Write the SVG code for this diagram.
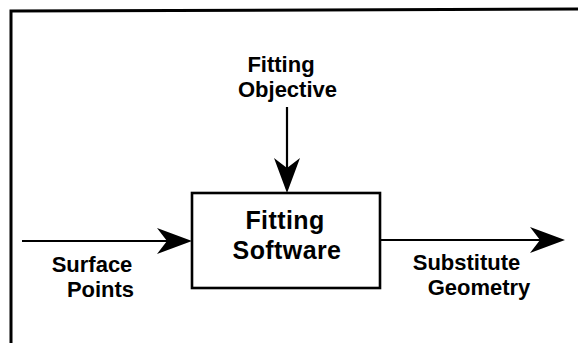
<svg xmlns="http://www.w3.org/2000/svg" width="578" height="343" viewBox="0 0 578 343">
  <style>
    .lbl { font-family: "Liberation Sans", Arial, Helvetica, sans-serif; font-weight: bold; fill: #000; }
    .sm { font-size: 22px; }
    .lg { font-size: 25px; letter-spacing: 0.4px; }
    .conn { stroke: #000; stroke-width: 2.2; fill: none; marker-end: url(#arr); }
  </style>
  <defs>
    <marker id="arr" markerUnits="userSpaceOnUse" viewBox="-32 -14 37 28" markerWidth="37" markerHeight="28" refX="0" refY="0" orient="auto">
      <path d="M4,0 L-31,-13 L-21,0 L-31,13 Z" fill="#000"/>
    </marker>
  </defs>
  <rect width="578" height="343" fill="#fff"/>
  <g id="frame">
    <path d="M11,343 V11 L578,9" fill="none" stroke="#000" stroke-width="3"/>
  </g>
  <g id="connectors">
    <line class="conn" x1="287" y1="107" x2="287" y2="189"/>
    <line class="conn" x1="22" y1="241" x2="188" y2="241"/>
    <line class="conn" x1="380" y1="240" x2="561" y2="240"/>
  </g>
  <g id="fitting-software">
    <rect x="192" y="193" width="188" height="95" fill="#fff" stroke="#000" stroke-width="2.6"/>
    <text class="lbl lg" x="285" y="229" text-anchor="middle">Fitting</text>
    <text class="lbl lg" x="287" y="259" text-anchor="middle">Software</text>
  </g>
  <g id="fitting-objective">
    <text class="lbl sm" x="281" y="72" text-anchor="middle">Fitting</text>
    <text class="lbl sm" x="287.5" y="97" text-anchor="middle">Objective</text>
  </g>
  <g id="surface-points">
    <text class="lbl sm" x="92" y="272" text-anchor="middle">Surface</text>
    <text class="lbl sm" x="100.5" y="297" text-anchor="middle">Points</text>
  </g>
  <g id="substitute-geometry">
    <text class="lbl sm" x="466.5" y="270" text-anchor="middle">Substitute</text>
    <text class="lbl sm" x="479" y="295" text-anchor="middle">Geometry</text>
  </g>
</svg>
